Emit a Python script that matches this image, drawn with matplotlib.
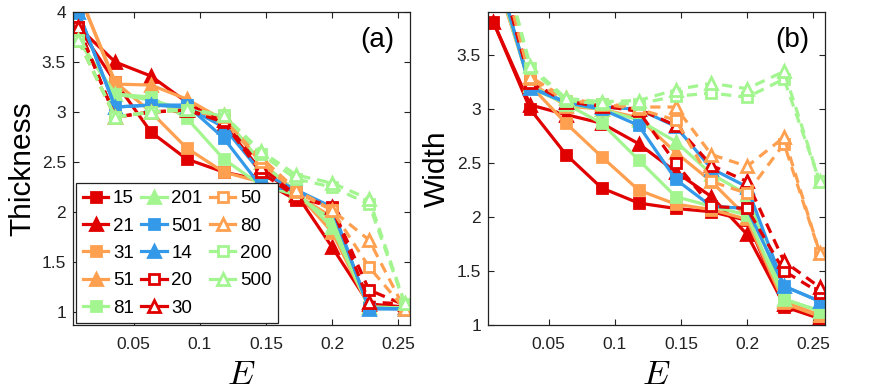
import matplotlib
matplotlib.use("Agg")
import matplotlib.pyplot as plt

plt.rcParams['font.family'] = ['Liberation Sans Narrow', 'Liberation Sans', 'DejaVu Sans']
plt.rcParams['mathtext.fontset'] = 'cm'

E = [0.008, 0.036, 0.063, 0.09, 0.118, 0.146, 0.173, 0.2, 0.228, 0.255]

labels = ['15', '21', '31', '51', '81', '201', '501', '14', '20', '30', '50', '80', '200', '500']

# panel (a): thickness
thick = {
    '15':  [3.85, 3.30, 2.80, 2.53, 2.40, 2.32, 2.12, 1.95, 1.05, 1.05],
    '21':  [3.85, 3.50, 3.36, 3.10, 2.88, 2.42, 2.18, 1.65, 1.08, 1.05],
    '31':  [4.20, 3.30, 3.00, 2.64, 2.40, 2.30, 2.17, 1.95, 1.05, 1.03],
    '51':  [4.20, 3.28, 3.27, 3.13, 2.92, 2.50, 2.20, 1.80, 1.05, 1.03],
    '81':  [3.72, 3.18, 3.15, 2.94, 2.53, 2.27, 2.17, 1.92, 1.05, 1.04],
    '201': [3.72, 3.18, 3.12, 3.02, 2.96, 2.50, 2.20, 1.85, 1.05, 1.04],
    '501': [4.00, 3.05, 3.07, 3.07, 2.74, 2.26, 2.22, 2.03, 1.04, 1.03],
    '14':  [4.00, 3.05, 3.07, 3.05, 2.85, 2.40, 2.22, 2.05, 1.03, 1.03],
    '20':  [3.85, 2.95, 3.00, 3.02, 2.90, 2.40, 2.15, 2.05, 1.22, 1.07],
    '30':  [3.85, 2.95, 3.00, 3.02, 2.92, 2.45, 2.17, 2.05, 1.10, 1.08],
    '50':  [3.72, 2.95, 3.00, 3.02, 2.95, 2.50, 2.20, 2.02, 1.45, 1.03],
    '80':  [3.72, 2.95, 3.00, 3.03, 2.97, 2.55, 2.22, 2.02, 1.72, 1.03],
    '200': [3.72, 2.95, 3.00, 3.02, 2.97, 2.58, 2.33, 2.25, 2.08, 1.08],
    '500': [3.72, 2.95, 3.00, 3.03, 2.97, 2.61, 2.37, 2.29, 2.13, 1.09],
}

# panel (b): width
width = {
    '15':  [3.81, 3.00, 2.58, 2.27, 2.13, 2.08, 2.05, 1.97, 1.17, 1.06],
    '21':  [3.81, 3.04, 2.95, 2.87, 2.68, 2.42, 2.19, 1.84, 1.19, 1.07],
    '31':  [4.30, 3.22, 2.87, 2.56, 2.25, 2.12, 2.07, 1.98, 1.20, 1.08],
    '51':  [4.30, 3.25, 3.03, 3.00, 2.92, 2.60, 2.33, 2.00, 1.22, 1.09],
    '81':  [4.35, 3.20, 3.05, 2.87, 2.53, 2.19, 2.10, 2.02, 1.24, 1.13],
    '201': [4.35, 3.22, 3.05, 3.00, 2.90, 2.70, 2.40, 2.21, 1.24, 1.13],
    '501': [4.40, 3.20, 3.06, 3.00, 2.85, 2.35, 2.10, 2.08, 1.36, 1.22],
    '14':  [4.40, 3.20, 3.07, 3.02, 3.00, 2.84, 2.45, 2.28, 1.36, 1.22],
    '20':  [4.50, 3.25, 3.07, 3.03, 2.98, 2.50, 2.10, 2.08, 1.50, 1.30],
    '30':  [4.50, 3.25, 3.07, 3.03, 3.00, 2.85, 2.48, 2.33, 1.59, 1.35],
    '50':  [4.60, 3.28, 3.08, 3.05, 3.00, 2.90, 2.33, 2.22, 2.68, 1.67],
    '80':  [4.60, 3.30, 3.10, 3.05, 3.02, 3.02, 2.58, 2.47, 2.74, 1.67],
    '200': [4.70, 3.38, 3.08, 3.05, 3.05, 3.12, 3.15, 3.11, 3.28, 2.33],
    '500': [4.70, 3.40, 3.10, 3.07, 3.08, 3.18, 3.24, 3.19, 3.35, 2.33],
}

red = '#e00000'
orange = '#ffa050'
green = '#a3f590'
blue = '#3399e8'

# colour, marker, filled, dashed
styles = {
    '15':  (red, 's', True, False),
    '21':  (red, '^', True, False),
    '31':  (orange, 's', True, False),
    '51':  (orange, '^', True, False),
    '81':  (green, 's', True, False),
    '201': (green, '^', True, False),
    '501': (blue, 's', True, False),
    '14':  (blue, '^', True, False),
    '20':  (red, 's', False, True),
    '30':  (red, '^', False, True),
    '50':  (orange, 's', False, True),
    '80':  (orange, '^', False, True),
    '200': (green, 's', False, True),
    '500': (green, '^', False, True),
}


def draw_panel(ax, data, ylim, yticks, ylabel, tag):
    for lab in labels:
        c, m, filled, dashed = styles[lab]
        ax.plot(E, data[lab], color=c, marker=m, lw=2.3,
                ls=(0, (3.2, 2.2)) if dashed else '-',
                ms=6.5 if m == 's' else 8, mew=2,
                mfc=c if filled else 'white', mec=c, label=lab)
    ax.set_xlim(0.004, 0.259)
    ax.set_ylim(*ylim)
    ax.set_xticks([0.05, 0.1, 0.15, 0.2, 0.25])
    ax.set_xticklabels(['0.05', '0.1', '0.15', '0.2', '0.25'])
    ax.set_yticks(yticks)
    ax.set_yticklabels(['%g' % v for v in yticks])
    ax.tick_params(direction='in', length=4, width=0.8, top=True, right=True,
                   labelsize=12.5, colors='#222222')
    ax.tick_params(axis='x', pad=9)
    ax.tick_params(axis='y', pad=5)
    for s in ax.spines.values():
        s.set_linewidth(0.9)
        s.set_color('#222222')
    ax.set_xlabel('$E$', fontsize=25, labelpad=4)
    ax.set_ylabel(ylabel, fontsize=21.5, family=['Liberation Sans', 'DejaVu Sans'], labelpad=4)
    ax.text(0.955, 0.91, tag, transform=ax.transAxes, ha='right', va='center',
            fontsize=20, family=['Liberation Sans', 'DejaVu Sans'])


fig = plt.figure(figsize=(8.72, 3.9), dpi=100)
ax1 = fig.add_axes([0.0837, 0.1667, 0.3865, 0.8023])
ax2 = fig.add_axes([0.5596, 0.1667, 0.3865, 0.8023])

draw_panel(ax1, thick, (0.87, 4.0), [1, 1.5, 2, 2.5, 3, 3.5, 4], 'Thickness', '(a)')
draw_panel(ax2, width, (1.0, 3.9), [1, 1.5, 2, 2.5, 3, 3.5], 'Width', '(b)')

leg = ax1.legend(ncol=3, loc='lower left', bbox_to_anchor=(0.01, 0.005),
                 borderaxespad=0, fontsize=13.5, fancybox=False, edgecolor='#222222',
                 framealpha=1, handlelength=1.35, handletextpad=0.25,
                 columnspacing=0.4, labelspacing=0.55, borderpad=0.35)
leg.get_frame().set_linewidth(0.9)
for h in leg.get_lines():
    h.set_linestyle('-')

fig.savefig('out.png', dpi=100)
